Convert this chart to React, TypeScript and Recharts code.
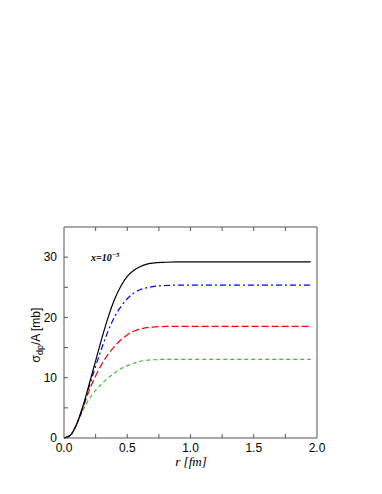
import React from "react";
import { LineChart, Line, XAxis, YAxis } from "recharts";

const rValues = [0, 0.05, 0.1, 0.15, 0.2, 0.25, 0.3, 0.35, 0.4, 0.45, 0.5, 0.55, 0.6, 0.65, 0.7, 0.8, 0.9, 1.0, 1.2, 1.4, 1.6, 1.8, 1.95];
const blackSeries = [0, 0.45, 2.3, 5.3, 9.0, 12.8, 16.6, 20.1, 23.0, 25.2, 26.8, 27.8, 28.4, 28.8, 29.0, 29.15, 29.2, 29.2, 29.2, 29.2, 29.2, 29.2, 29.2];
const blueSeries = [0, 0.45, 2.3, 5.2, 8.6, 11.9, 15.0, 17.8, 20.1, 21.8, 23.1, 24.0, 24.6, 24.9, 25.1, 25.3, 25.35, 25.35, 25.35, 25.35, 25.35, 25.35, 25.35];
const redSeries = [0, 0.45, 2.25, 5.0, 7.9, 10.3, 12.3, 13.9, 15.2, 16.3, 17.1, 17.7, 18.05, 18.3, 18.4, 18.5, 18.5, 18.5, 18.5, 18.5, 18.5, 18.5, 18.5];
const greenSeries = [0, 0.45, 2.2, 4.6, 6.5, 7.9, 9.0, 10.0, 10.8, 11.5, 12.0, 12.4, 12.7, 12.88, 12.97, 13.05, 13.05, 13.05, 13.05, 13.05, 13.05, 13.05, 13.05];

const xTicks = [0, 0.25, 0.5, 0.75, 1.0, 1.25, 1.5, 1.75, 2.0];
const xLabelTicks = [0, 0.5, 1.0, 1.5, 2.0];
const yTicks = [0, 5, 10, 15, 20, 25, 30, 35];
const yLabelTicks = [0, 10, 20, 30];

const data = rValues.map((r, i) => ({
  r,
  black: blackSeries[i],
  blue: blueSeries[i],
  red: redSeries[i],
  green: greenSeries[i],
}));

const FONT = "'Liberation Sans', Arial, sans-serif";
const TICK_LEN = 4;
const FRAME = "#555";

const BottomTick = (props: any) => {
  const { x, y, payload } = props;
  const v = payload.value;
  const showLabel = xLabelTicks.some((t) => Math.abs(t - v) < 1e-9);
  const base = y - 5;
  return (
    <g>
      {v > 0 && v < 2 ? (
        <line x1={x} x2={x} y1={base} y2={base - TICK_LEN} stroke={FRAME} strokeWidth={1} />
      ) : null}
      {showLabel ? (
        <text x={x} y={y} dy="0.71em" textAnchor="middle" fontFamily={FONT} fontSize={12} fill="#000">
          {v.toFixed(1)}
        </text>
      ) : null}
    </g>
  );
};

const TopTick = (props: any) => {
  const { x, y, payload } = props;
  const v = payload.value;
  if (v <= 0 || v >= 2) return <g />;
  return <line x1={x} x2={x} y1={y} y2={y + TICK_LEN} stroke={FRAME} strokeWidth={1} />;
};

const LeftTick = (props: any) => {
  const { x, y, payload } = props;
  const v = payload.value;
  const showLabel = yLabelTicks.includes(v);
  const base = x + 7;
  return (
    <g>
      {v > 0 && v < 35 ? (
        <line x1={base} x2={base + TICK_LEN} y1={y} y2={y} stroke={FRAME} strokeWidth={1} />
      ) : null}
      {showLabel ? (
        <text x={x} y={y} dy="0.355em" textAnchor="end" fontFamily={FONT} fontSize={12} fill="#000">
          {v}
        </text>
      ) : null}
    </g>
  );
};

const RightTick = (props: any) => {
  const { x, y, payload } = props;
  const v = payload.value;
  if (v <= 0 || v >= 35) return <g />;
  return <line x1={x} x2={x - TICK_LEN} y1={y} y2={y} stroke={FRAME} strokeWidth={1} />;
};

export default function App() {
  return (
    <div style={{ position: "absolute", left: 0, top: 0, width: 382, height: 494, background: "#fff" }}>
      <LineChart
        width={382}
        height={494}
        data={data}
        margin={{ top: 226, right: 64, bottom: 26, left: 24 }}
      >
        <XAxis
          dataKey="r"
          type="number"
          domain={[0, 2]}
          ticks={xTicks}
          interval={0}
          tickLine={false}
          tickSize={0}
          tickMargin={5}
          height={30}
          axisLine={{ stroke: FRAME, strokeWidth: 1 }}
          tick={<BottomTick />}
        />
        <XAxis
          xAxisId="top"
          orientation="top"
          dataKey="r"
          type="number"
          domain={[0, 2]}
          ticks={xTicks}
          interval={0}
          tickLine={false}
          tickSize={0}
          tickMargin={0}
          height={1}
          axisLine={{ stroke: FRAME, strokeWidth: 1 }}
          tick={<TopTick />}
        />
        <YAxis
          type="number"
          domain={[0, 35]}
          ticks={yTicks}
          interval={0}
          tickLine={false}
          tickSize={0}
          tickMargin={7}
          width={40}
          axisLine={{ stroke: FRAME, strokeWidth: 1 }}
          tick={<LeftTick />}
        />
        <YAxis
          yAxisId="right"
          orientation="right"
          type="number"
          domain={[0, 35]}
          ticks={yTicks}
          interval={0}
          tickLine={false}
          tickSize={0}
          tickMargin={0}
          width={1}
          axisLine={{ stroke: FRAME, strokeWidth: 1 }}
          tick={<RightTick />}
        />
        <Line type="monotone" dataKey="green" stroke="#44bb33" strokeWidth={1.2} strokeDasharray="4 3" dot={false} isAnimationActive={false} />
        <Line type="monotone" dataKey="red" stroke="#ff0000" strokeWidth={1.2} strokeDasharray="7 3" dot={false} isAnimationActive={false} />
        <Line type="monotone" dataKey="blue" stroke="#0000ff" strokeWidth={1.2} strokeDasharray="6 3 2 3" dot={false} isAnimationActive={false} />
        <Line type="monotone" dataKey="black" stroke="#000000" strokeWidth={1.2} dot={false} isAnimationActive={false} />
      </LineChart>
      <div
        style={{
          position: "absolute",
          left: 191,
          top: 454,
          transform: "translateX(-50%)",
          fontFamily: "'Liberation Serif', serif",
          fontStyle: "italic",
          fontSize: 13,
          whiteSpace: "nowrap",
        }}
      >
        r [fm]
      </div>
      <div
        style={{
          position: "absolute",
          left: 37,
          top: 335,
          transform: "translate(-50%, -50%) rotate(-90deg)",
          fontFamily: FONT,
          fontSize: 12,
          whiteSpace: "nowrap",
        }}
      >
        σ<sub style={{ fontSize: 9 }}>dp</sub>/A [mb]
      </div>
      <div
        style={{
          position: "absolute",
          left: 91,
          top: 251,
          fontFamily: "'Liberation Serif', serif",
          fontStyle: "italic",
          fontWeight: "bold",
          fontSize: 10,
          whiteSpace: "nowrap",
        }}
      >
        x=10<sup style={{ fontSize: 7, verticalAlign: "4px" }}>−5</sup>
      </div>
    </div>
  );
}
